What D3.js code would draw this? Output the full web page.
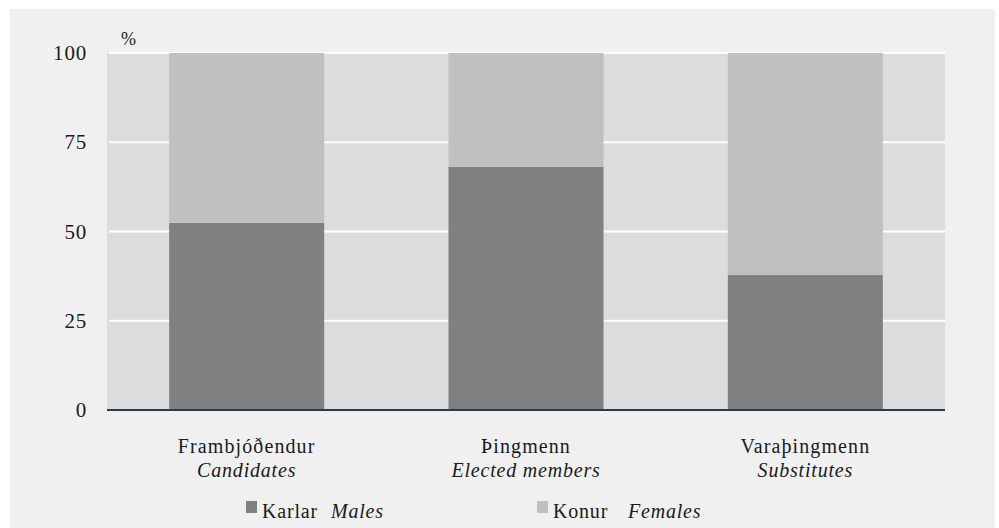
<!DOCTYPE html>
<html>
<head>
<meta charset="utf-8">
<script src="https://cdn.jsdelivr.net/npm/d3@7"></script>
<style>
	body { margin: 0; background: #ffffff; }
	svg { display: block; }
	svg text { font-family: "Times New Roman", Times, "Liberation Serif", "DejaVu Serif", serif; }
</style>
</head>
<body>
<div id="chart"></div>
<script>
'use strict'

// categories: Icelandic name + English name
var categories = ['Frambjóðendur', 'Þingmenn', 'Varaþingmenn'];
var categoriesEn = ['Candidates', 'Elected members', 'Substitutes'];

// share of males / females, %
var males = [52.4, 68.1, 37.8];
var females = [47.6, 31.9, 62.2];

var yTicks = [0, 25, 50, 75, 100];

var seriesNames = ['Karlar', 'Konur'];
var seriesNamesEn = ['Males', 'Females'];

var dimensions = { width: 999, height: 528 };
var plot = { left: 107, right: 945, top: 53, bottom: 410 };
var colors = { males: '#808080', females: '#c0c0c0' };

var svg = d3.select('#chart')
	.append('svg')
	.attr('width', dimensions.width)
	.attr('height', dimensions.height);

// outer panel
svg.append('rect')
	.attr('x', 10)
	.attr('y', 9)
	.attr('width', 985)
	.attr('height', dimensions.height - 9)
	.attr('fill', '#f0f0f0');

svg.append('rect')
	.attr('x', plot.left)
	.attr('y', plot.top)
	.attr('width', plot.right - plot.left)
	.attr('height', plot.bottom - plot.top)
	.attr('fill', '#dcdcdc');

var x = d3.scaleBand()
	.domain(categories)
	.range([plot.left, plot.right])
	.paddingInner(0.445)
	.paddingOuter(0.2225);

var y = d3.scaleLinear()
	.domain([0, 100])
	.range([plot.bottom, plot.top]);

// grid lines
svg.append('g')
	.selectAll('line')
	.data(yTicks.filter(function(d) { return d > 0; }))
	.enter().append('line')
	.attr('x1', plot.left + 2)
	.attr('x2', plot.right)
	.attr('y1', function(d) { return y(d); })
	.attr('y2', function(d) { return y(d); })
	.attr('stroke', '#ffffff')
	.attr('stroke-width', 2);

// stacked bars
var stackData = categories.map(function(c, i) {
	return { cat: c, males: males[i], females: females[i] };
});
var stack = d3.stack().keys(['males', 'females'])(stackData);

svg.append('g')
	.selectAll('g')
	.data(stack)
	.enter().append('g')
	.attr('fill', function(d) { return colors[d.key]; })
	.selectAll('rect')
	.data(function(d) { return d; })
	.enter().append('rect')
	.attr('x', function(d) { return x(d.data.cat); })
	.attr('width', x.bandwidth())
	.attr('y', function(d) { return y(d[1]); })
	.attr('height', function(d) { return y(d[0]) - y(d[1]); });

// zero line
svg.append('line')
	.attr('x1', plot.left)
	.attr('x2', plot.right)
	.attr('y1', y(0))
	.attr('y2', y(0))
	.attr('stroke', '#2b3a5c')
	.attr('stroke-width', 2);

// y axis labels
var yAxis = d3.axisLeft(y).tickValues(yTicks).tickSize(0).tickPadding(0);
var yG = svg.append('g')
	.attr('transform', 'translate(87, 0)')
	.call(yAxis);
yG.attr('font-family', null);
yG.select('.domain').remove();
yG.selectAll('text')
	.attr('font-size', 21)
	.attr('letter-spacing', 0.8)
	.attr('fill', '#1a1a1a');

svg.append('text')
	.attr('x', 121)
	.attr('y', 45)
	.attr('font-size', 18)
	.attr('fill', '#1a1a1a')
	.text('%');

// x labels
var xLab = svg.append('g')
	.selectAll('g')
	.data(categories)
	.enter().append('g')
	.attr('transform', function(d) {
		return 'translate(' + (x(d) + x.bandwidth() / 2) + ', 0)';
	});

xLab.append('text')
	.attr('y', 453)
	.attr('text-anchor', 'middle')
	.attr('font-size', 20)
	.attr('letter-spacing', 1.1)
	.attr('fill', '#1a1a1a')
	.text(function(d) { return d; });

xLab.append('text')
	.attr('y', 477)
	.attr('text-anchor', 'middle')
	.attr('font-size', 20)
	.attr('font-style', 'italic')
	.attr('letter-spacing', 0.8)
	.attr('fill', '#1a1a1a')
	.text(function(d, i) { return categoriesEn[i]; });

// legend
var legendX = [246, 537];
var legend = svg.append('g')
	.selectAll('g')
	.data(seriesNames)
	.enter().append('g')
	.attr('transform', function(d, i) { return 'translate(' + legendX[i] + ', 0)'; });

legend.append('rect')
	.attr('x', 0)
	.attr('y', 501)
	.attr('width', 11)
	.attr('height', 12)
	.attr('fill', function(d, i) { return i === 0 ? colors.males : colors.females; });

legend.append('text')
	.attr('x', 16)
	.attr('y', 518)
	.attr('font-size', 20)
	.attr('letter-spacing', 0.8)
	.attr('fill', '#1a1a1a')
	.text(function(d) { return d; });

legend.append('text')
	.attr('x', function(d, i) { return i === 0 ? 85 : 91; })
	.attr('y', 518)
	.attr('font-size', 20)
	.attr('font-style', 'italic')
	.attr('letter-spacing', 0.8)
	.attr('fill', '#1a1a1a')
	.text(function(d, i) { return seriesNamesEn[i]; });
</script>
</body>
</html>
